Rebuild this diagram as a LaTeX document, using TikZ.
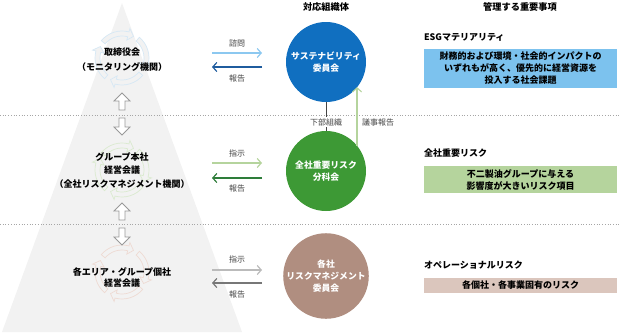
\documentclass[tikz,border=0pt]{standalone}
\usepackage{fontspec}
\setmainfont{Noto Sans CJK JP}
\usetikzlibrary{arrows.meta}
\definecolor{tri}{HTML}{F2F2F2}
\definecolor{cblue}{RGB}{16,111,192}
\definecolor{cgreen}{RGB}{61,153,53}
\definecolor{cbrown}{RGB}{176,142,128}
\definecolor{bblue}{HTML}{7CC2EE}
\definecolor{bgreen}{HTML}{B5D49D}
\definecolor{bbrown}{RGB}{219,198,189}
\definecolor{lblue}{HTML}{8CC8F0}
\definecolor{dblue}{HTML}{1F5C9E}
\definecolor{lgreen}{HTML}{B5D49D}
\definecolor{dgreen}{HTML}{2E7D3A}
\definecolor{lgray}{HTML}{BBBBBB}
\definecolor{dgray}{HTML}{777777}
\definecolor{icblue}{HTML}{D6E8F5}
\definecolor{icgreen}{HTML}{DAEACF}
\definecolor{icbrown}{HTML}{EEDAD3}
\definecolor{txtgray}{HTML}{444444}
\newcommand\cycicon[3]{%
  \begin{scope}[shift={(#1,#2)}]
  \foreach \s in {130,220,310,40}{
    \draw[#3, line width=0.7pt, fill=tri]
      (\s:27) arc[start angle=\s, end angle=\s+65, radius=27]
      -- (\s+65:30.5) -- (\s+78:24.5) -- (\s+65:18.5) -- (\s+65:22)
      arc[start angle=\s+65, end angle=\s, radius=22] -- cycle;
  }
  \end{scope}}
\newcommand\hollowup[2]{%
  \draw[blockarr] (#1,#2) -- ++(8,8) -- ++(-5,0) -- ++(0,9) -- ++(-6,0) -- ++(0,-9) -- ++(-5,0) -- cycle;}
\newcommand\hollowdown[2]{%
  \draw[blockarr] (#1,#2) -- ++(8,-8) -- ++(-5,0) -- ++(0,-9) -- ++(-6,0) -- ++(0,9) -- ++(-5,0) -- cycle;}
\begin{document}
\begin{tikzpicture}[x=1pt,y=-1pt,
  every node/.style={inner sep=0pt, outer sep=0pt},
  lefttext/.style={font=\fontsize{9}{13.5}\selectfont\bfseries, align=center},
  circnode/.style={circle, minimum size=80pt, font=\fontsize{8.8}{12}\selectfont\bfseries, text=white, align=center},
  smalllab/.style={font=\fontsize{8}{10}\selectfont, text=txtgray},
  header/.style={font=\fontsize{9.2}{11}\selectfont\bfseries},
  itemlab/.style={font=\fontsize{9}{11}\selectfont\bfseries, anchor=west},
  itembox/.style={minimum width=193pt, font=\fontsize{9}{12}\selectfont\bfseries, align=center},
  flowarr/.style={line width=1.4pt, -{Straight Barb[length=4pt,width=9pt,line width=1.2pt]}},
  blockarr/.style={draw=gray!80, line width=0.8pt, fill=white},
  sepline/.style={draw=gray!70, dotted, line width=0.7pt}]
\useasboundingbox (0,0) rectangle (620,332);
\fill[tri] (122,3) -- (242,332) -- (2,332) -- cycle;
% separators
\draw[sepline] (0,115) -- (620,115);
\draw[sepline] (0,224) -- (620,224);
% cycle icons
\cycicon{122}{58}{icblue}
\cycicon{122}{170}{icgreen}
\cycicon{122}{272}{icbrown}
% block arrows
\hollowup{122}{93}
\hollowdown{122}{135}
\hollowup{122}{203}
\hollowdown{122}{245}
% left texts
\node[lefttext] (torishimari) at (122,59.5) {取締役会\\[1.5pt]（モニタリング機関）};
\node[lefttext] (group) at (122,170.5) {グループ本社\\経営会議\\（全社リスクマネジメント機関）};
\node[lefttext, font=\fontsize{9}{11.6}\selectfont\bfseries] (area) at (122,277.5) {各エリア・グループ個社\\経営会議};
% headers
\node[header] (h1) at (326,7) {対応組織体};
\node[header] (h2) at (520,7) {管理する重要事項};
% circles
\node[circnode, fill=cblue] (sus) at (326,62) {サステナビリティ\\委員会};
\node[circnode, fill=cgreen] (bun) at (326,171) {全社重要リスク\\分科会};
\node[circnode, fill=cbrown] (kaku) at (326,276) {各社\\リスクマネジメント\\委員会};
% vertical connectors
\draw[txtgray, line width=0.8pt] (sus.south) -- (bun.north);
\node[smalllab, fill=white, inner sep=1.5pt] (kabu) at (326,122) {下部組織};
\draw[lgreen, line width=1.3pt, -{Straight Barb[length=4pt,width=9pt,line width=1.1pt]}] (bun.39) -- (sus.-39);
\node[smalllab] (giji) at (378,122) {議事報告};
% horizontal arrows
\coordinate (a1l) at (212,53); \coordinate (a1r) at (262,53);
\coordinate (b1l) at (212,67); \coordinate (b1r) at (262,67);
\draw[flowarr, lblue] (a1l) -- (a1r);
\draw[flowarr, dblue] (b1r) -- (b1l);
\node[smalllab] (shimon) at (237,43) {諮問};
\node[smalllab] (hokoku1) at (237,78) {報告};
\coordinate (a2l) at (212,163); \coordinate (a2r) at (262,163);
\coordinate (b2l) at (212,178); \coordinate (b2r) at (262,178);
\draw[flowarr, lgreen] (a2l) -- (a2r);
\draw[flowarr, dgreen] (b2r) -- (b2l);
\node[smalllab] (shiji2) at (237,153) {指示};
\node[smalllab] (hokoku2) at (237,188) {報告};
\coordinate (a3l) at (212,270); \coordinate (a3r) at (262,270);
\coordinate (b3l) at (212,283); \coordinate (b3r) at (262,283);
\draw[flowarr, lgray] (a3l) -- (a3r);
\draw[flowarr, dgray] (b3r) -- (b3l);
\node[smalllab] (shiji3) at (237,259) {指示};
\node[smalllab] (hokoku3) at (237,294) {報告};
% right items
\node[itemlab] (esg) at (424,37) {ESGマテリアリティ};
\node[itembox, fill=bblue, minimum height=39pt] (esgbox) at (520.5,68.5) {財務的および環境・社会的インパクトの\\いずれもが高く、優先的に経営資源を\\投入する社会課題};
\node[itemlab] (zensha) at (424,153) {全社重要リスク};
\node[itembox, fill=bgreen, minimum height=27pt] (zenbox) at (520.5,179.5) {不二製油グループに与える\\影響度が大きいリスク項目};
\node[itemlab] (ope) at (424,265) {オペレーショナルリスク};
\node[itembox, fill=bbrown, minimum height=15pt] (opebox) at (520.5,285.5) {各個社・各事業固有のリスク};
\end{tikzpicture}
\end{document}
